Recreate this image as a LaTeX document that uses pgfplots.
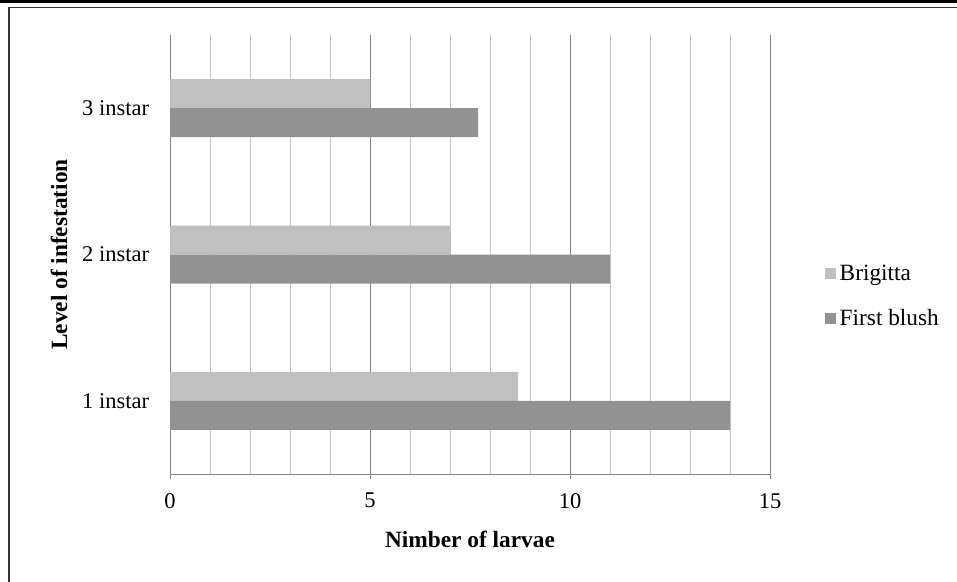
\documentclass[border=0pt]{standalone}
\usepackage{pgfplots}
\pgfplotsset{compat=1.18}
\usepackage{fontspec}
\setmainfont{Liberation Serif}
\definecolor{brig}{HTML}{C0C0C0}
\definecolor{blush}{HTML}{929292}
\definecolor{mingrid}{HTML}{C6C6C6}
\definecolor{majgrid}{HTML}{868686}
\begin{document}
\begin{tikzpicture}
\useasboundingbox (0,0) rectangle (574.2pt,-348.6pt);
\fill[black] (0,0) rectangle (574.2pt,-1.8pt);
\draw[line width=0.8pt, black!80] (5.4pt,-352pt) -- (5.4pt,-4.5pt) -- (580pt,-4.5pt);
\begin{axis}[
  scale only axis,
  width=360pt, height=263.4pt,
  at={(102pt,-284.4pt)}, anchor=south west,
  xmin=0, xmax=15, ymin=0.5, ymax=3.5,
  xtick={0,5,10,15},
  minor x tick num=4,
  ytick={1,2,3},
  yticklabels={1 instar,2 instar,3 instar},
  xmajorgrids, xminorgrids,
  major grid style={majgrid, line width=0.6pt},
  minor grid style={mingrid, line width=0.6pt},
  axis x line*=bottom, axis y line*=left,
  axis line style={majgrid, line width=0.6pt, -},
  xtick pos=bottom, ytick pos=left,
  tick align=outside,
  major tick length=3pt, minor tick length=0pt,
  y tick style={draw=none},
  x tick style={majgrid, line width=0.6pt},
  /pgf/number format/assume math mode=true,
  tick label style={font=\fontsize{13.5}{16}\selectfont},
  xticklabel style={yshift=-5pt},
  yticklabel style={xshift=-6pt},
  xlabel={\textbf{Nimber of larvae}},
  ylabel={\textbf{Level of infestation}},
  label style={font=\fontsize{14}{16}\selectfont},
  xlabel style={at={(axis description cs:0.5,-0.150)}, anchor=center},
  ylabel style={at={(axis description cs:-0.185,0.5)}, anchor=center},
  xbar, bar width=17.4pt,
  legend style={at={(1.0917,0.405)}, anchor=west, draw=none, fill=none,
    font=\fontsize{14}{16}\selectfont, row sep=12pt, inner sep=0pt,
    /tikz/every even column/.append style={column sep=0pt}},
  legend cell align=left,
  legend image code/.code={\fill[#1] (0pt,-3.3pt) rectangle (6.6pt,3.3pt);},
]
\addplot[fill=brig, draw=none, bar shift=8.7pt] coordinates {(8.7,1) (7,2) (5,3)};
\addlegendentry{Brigitta}
\addplot[fill=blush, draw=none, bar shift=-8.7pt] coordinates {(14,1) (11,2) (7.7,3)};
\addlegendentry{First blush}
\end{axis}
\end{tikzpicture}
\end{document}
